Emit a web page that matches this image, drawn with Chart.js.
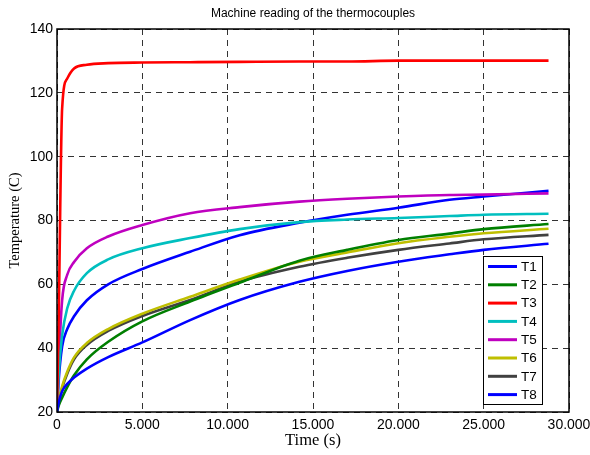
<!DOCTYPE html>
<html>
<head>
<meta charset="utf-8">
<script src="https://cdn.jsdelivr.net/npm/chart.js@4"></script>
<style>
  html, body { margin: 0; padding: 0; background: #fff; }
  #wrap { width: 590px; height: 455px; }
</style>
</head>
<body>
<div id="wrap"><canvas id="chart" width="590" height="455"></canvas></div>
<script>
// tiempos de lectura (s), comunes a todos los termopares
const times = [0, 100, 300, 600, 1000, 1750, 3000, 5000, 7800, 10700, 14200, 17000, 20000, 23000, 25000, 28800];

const t1 = [20, 23, 26.5, 28.8, 30.8, 33.6, 37.2, 41.8, 48.8, 55.1, 60.8, 64.2, 67.1, 69.4, 70.8, 72.7];
const t2 = [20, 22, 24.5, 27.8, 31.5, 36.5, 42, 48.4, 54.6, 60.5, 67.4, 70.8, 73.9, 75.9, 77.3, 78.9];
const t3 = [20, 50, 115, 124.5, 127.6, 128.8, 129.3, 129.5, 129.6, 129.7, 129.8, 129.8, 130.1, 130.1, 130.1, 130.1];
const t4 = [20, 32, 44, 52.5, 58, 63.5, 67.8, 71.3, 74.5, 77.3, 79.5, 80.3, 80.8, 81.4, 81.8, 82.1];
const t5 = [20, 35, 55, 63, 67, 71.3, 75, 78.6, 82.3, 84.2, 85.9, 86.8, 87.5, 88, 88.1, 88.5];
const t6 = [20, 23.3, 28, 32.6, 37.1, 41.6, 46, 50.8, 56.1, 61.5, 67.1, 70, 72.9, 74.9, 76, 77.4];
const t7 = [20, 23, 27.5, 32, 36.5, 41, 45.4, 50.1, 55.1, 60.8, 65.5, 68.3, 70.8, 72.8, 74.1, 75.5];
const t8 = [20, 30, 40.5, 46, 50, 55, 60, 64.8, 70.2, 75.4, 79.3, 81.8, 84, 86.5, 87.5, 89.3];

const seriesNames = ['T1', 'T2', 'T3', 'T4', 'T5', 'T6', 'T7', 'T8'];
const seriesValues = [t1, t2, t3, t4, t5, t6, t7, t8];
const seriesColors = ['#0000ff', '#007f00', '#ff0000', '#00bfbf', '#bf00bf', '#bfbf00', '#404040', '#0000ff'];

const xTicks = [0, 5000, 10000, 15000, 20000, 25000, 30000];
const yTicks = [20, 40, 60, 80, 100, 120, 140];

// formato con punto de miles: 5000 -> 5.000
function fmtThousands(v) {
    return String(v).replace(/\B(?=(\d{3})+(?!\d))/g, '.');
}

const datasets = seriesNames.map((name, i) => ({
    label: name,
    data: times.map((t, j) => ({ x: t, y: seriesValues[i][j] })),
    borderColor: seriesColors[i],
    backgroundColor: seriesColors[i],
    borderWidth: 2.6,
    pointRadius: 0,
    cubicInterpolationMode: 'monotone',
    fill: false
}));

// caja del eje y leyenda dentro del area del grafico
const boxPlugin = {
    id: 'boxAndLegend',
    afterDatasetsDraw(chart) {
        const { ctx, chartArea: a } = chart;
        ctx.save();
        ctx.strokeStyle = '#000';
        ctx.lineWidth = 1.5;
        ctx.strokeRect(a.left, a.top, a.right - a.left, a.bottom - a.top);
        ctx.restore();
    },
    afterDraw(chart) {
        const { ctx, chartArea: a } = chart;
        const sets = chart.data.datasets;
        const bx = a.right - 86, by = a.bottom - 156;
        const bw = 59, bh = 148;
        ctx.save();
        ctx.fillStyle = '#fff';
        ctx.fillRect(bx, by, bw, bh);
        ctx.strokeStyle = '#000';
        ctx.lineWidth = 1;
        ctx.strokeRect(bx + 0.5, by + 0.5, bw, bh);
        ctx.font = '13.5px "Liberation Sans", Arial, sans-serif';
        ctx.textBaseline = 'middle';
        ctx.textAlign = 'left';
        sets.forEach((ds, i) => {
            const y = by + 10.5 + i * 18.3;
            ctx.strokeStyle = ds.borderColor;
            ctx.lineWidth = 3;
            ctx.beginPath();
            ctx.moveTo(bx + 5, y);
            ctx.lineTo(bx + 34, y);
            ctx.stroke();
            ctx.fillStyle = '#000';
            ctx.fillText(ds.label, bx + 38, y + 0.5);
        });
        ctx.restore();
    }
};

const gridOpts = {
    color: 'rgba(0,0,0,0.8)',
    lineWidth: 1,
    drawTicks: false
};

new Chart(document.getElementById('chart'), {
    type: 'line',
    data: { datasets: datasets },
    plugins: [boxPlugin],
    options: {
        responsive: false,
        animation: false,
        layout: { padding: { left: 0, right: 21, top: 0, bottom: 0 } },
        plugins: {
            legend: { display: false },
            tooltip: { enabled: false },
            title: {
                display: true,
                fullSize: false,
                text: 'Machine reading of the thermocouples',
                color: '#000',
                font: { family: '"Liberation Sans", Arial, sans-serif', size: 12, weight: 'normal' },
                padding: { top: 6, bottom: 8.6 }
            }
        },
        scales: {
            x: {
                type: 'linear',
                min: 0,
                max: 30000,
                afterBuildTicks: (scale) => { scale.ticks = xTicks.map(v => ({ value: v })); },
                afterFit: (scale) => {
                    scale.height = 43;
                    scale.paddingLeft = 0;
                    scale.paddingRight = 0;
                },
                grid: gridOpts,
                border: { display: false, dash: [6, 5] },
                ticks: {
                    color: '#000',
                    padding: 5,
                    maxRotation: 0,
                    font: { family: '"Liberation Sans", Arial, sans-serif', size: 14 },
                    callback: (v) => fmtThousands(v)
                },
                title: {
                    display: true,
                    text: 'Time (s)',
                    color: '#000',
                    font: { family: '"Liberation Serif", "Times New Roman", serif', size: 16.5 },
                    padding: { top: 0, bottom: 4 }
                }
            },
            y: {
                min: 20,
                max: 140,
                afterBuildTicks: (scale) => { scale.ticks = yTicks.map(v => ({ value: v })); },
                afterFit: (scale) => { scale.width = 57; },
                grid: gridOpts,
                border: { display: false, dash: [6, 5] },
                ticks: {
                    color: '#000',
                    padding: 4,
                    font: { family: '"Liberation Sans", Arial, sans-serif', size: 14 }
                },
                title: {
                    display: true,
                    text: 'Temperature (C)',
                    color: '#000',
                    font: { family: '"Liberation Serif", "Times New Roman", serif', size: 14.5 },
                    padding: { top: 6, bottom: 0 }
                }
            }
        }
    }
});
</script>
</body>
</html>
